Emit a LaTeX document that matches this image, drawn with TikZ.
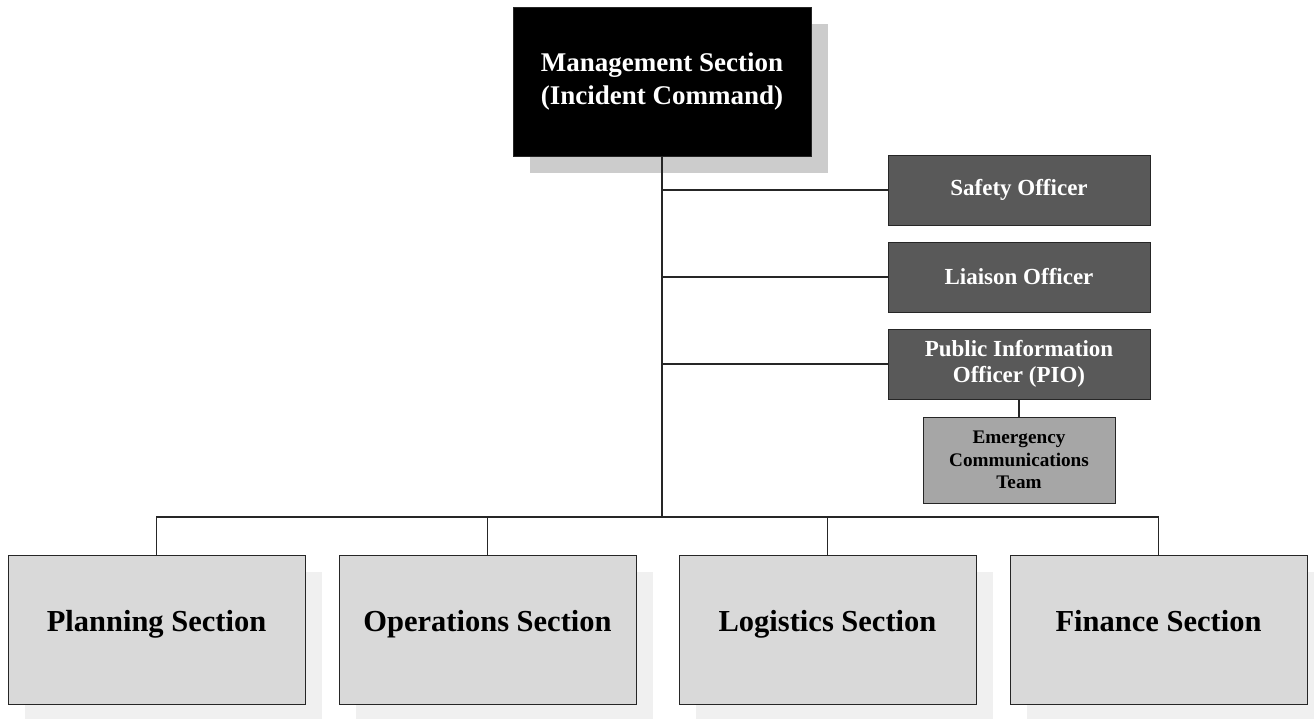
\documentclass[tikz,border=0pt]{standalone}
\usepackage{fontspec}
\setmainfont{Liberation Serif}
\usetikzlibrary{shadows}
\definecolor{cmdshadow}{HTML}{CCCCCC}
\definecolor{officerfill}{HTML}{595959}
\definecolor{teamfill}{HTML}{A6A6A6}
\definecolor{sectionfill}{HTML}{D9D9D9}
\definecolor{sectionshadow}{HTML}{F0F0F0}
\definecolor{linecol}{HTML}{262626}
\begin{document}
\begin{tikzpicture}[x=1pt,y=-1pt,
  box/.style={draw=linecol, line width=0.9pt, rectangle, align=center, inner sep=0pt},
  command/.style={box, fill=black, text=white, minimum width=298pt, minimum height=149pt,
    font=\bfseries\fontsize{27}{33}\selectfont,
    drop shadow={shadow xshift=17pt, shadow yshift=-17pt, opacity=1, fill=cmdshadow}},
  officer/.style={box, fill=officerfill, text=white, minimum width=262pt, minimum height=70pt,
    font=\bfseries\fontsize{23}{26}\selectfont},
  team/.style={box, fill=teamfill, text=black, minimum width=192pt, minimum height=86pt,
    font=\bfseries\fontsize{19.2}{22.5}\selectfont},
  section/.style={box, fill=sectionfill, text=black, minimum width=297pt, minimum height=149pt,
    text height=20pt, text depth=16pt,
    font=\bfseries\fontsize{30.5}{36}\selectfont,
    drop shadow={shadow xshift=17pt, shadow yshift=-17pt, opacity=1, fill=sectionshadow}},
  wire/.style={draw=linecol, line width=1.3pt}]
\useasboundingbox (0,0) rectangle (1314,719);

% command and staff
\node[command] (mgmt) at (662,82) {Management Section\\(Incident Command)};
\node[officer] (safety) at (1019,190) {Safety Officer};
\node[officer] (liaison) at (1019,277) {Liaison Officer};
\node[officer] (pio) at (1019,364) {Public Information\\Officer (PIO)};
\node[team] (ect) at (1019,460) {Emergency\\Communications\\Team};

% general staff sections
\node[section] (planning) at (156.5,629.5) {Planning Section};
\node[section] (operations) at (487.5,629.5) {Operations Section};
\node[section] (logistics) at (827.5,629.5) {Logistics Section};
\node[section] (finance) at (1158.5,629.5) {Finance Section};

% connectors
\coordinate (bus) at (662,517);
\draw[wire] (mgmt.south) -- (bus);
\draw[wire] (safety.west) -- (safety.west -| bus);
\draw[wire] (liaison.west) -- (liaison.west -| bus);
\draw[wire] (pio.west) -- (pio.west -| bus);
\draw[wire] (pio.south) -- (ect.north);
\draw[wire] (planning.north) |- (bus) -| (finance.north);
\draw[wire] (operations.north) -- (operations.north |- bus);
\draw[wire] (logistics.north) -- (logistics.north |- bus);
\end{tikzpicture}
\end{document}
